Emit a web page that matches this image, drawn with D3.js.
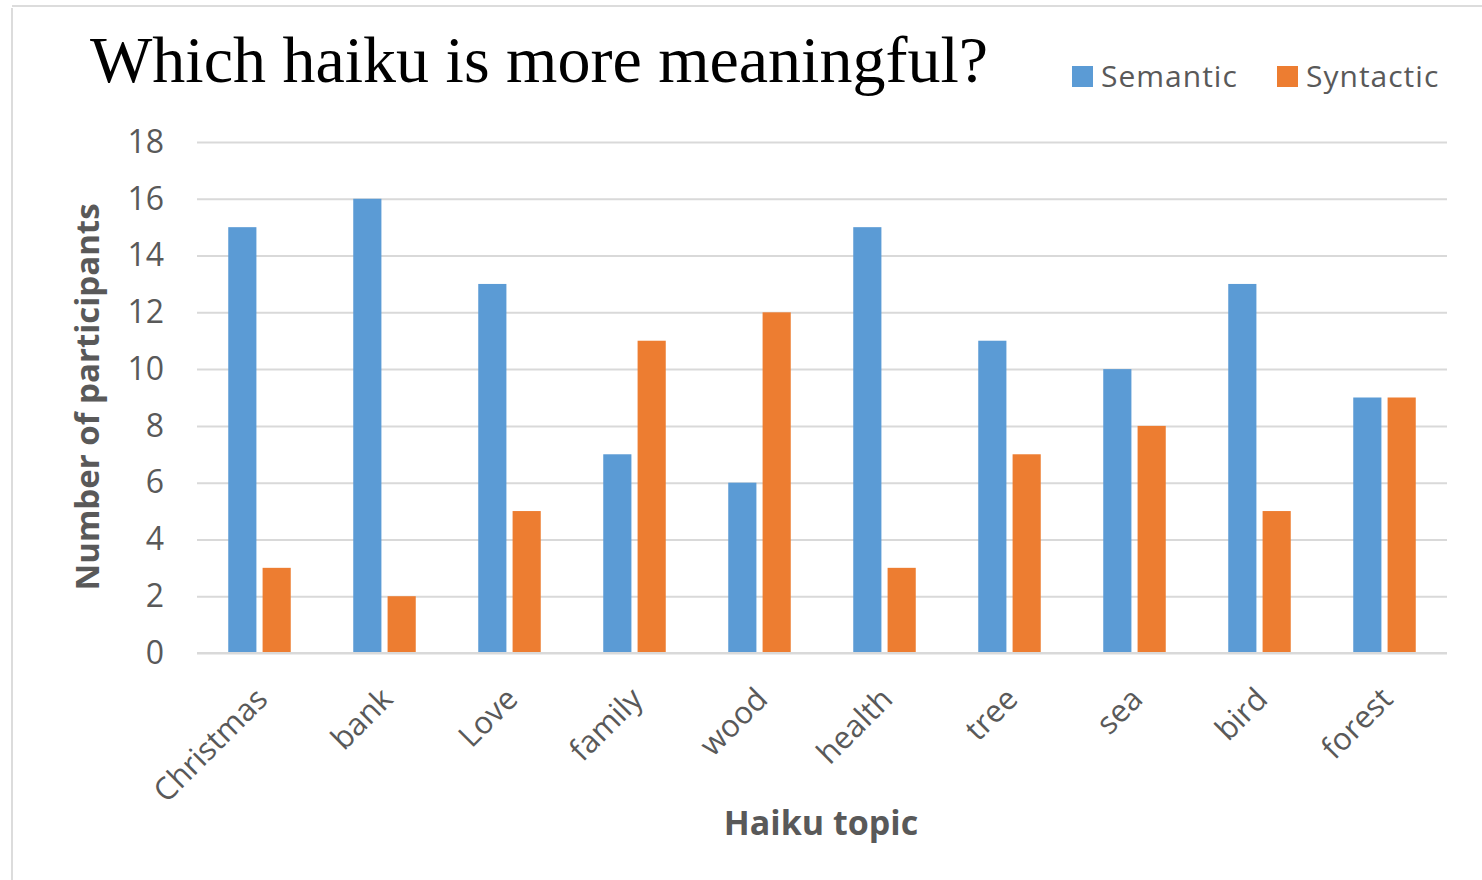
<!DOCTYPE html>
<html>
<head>
<meta charset="utf-8">
<script src="https://cdn.jsdelivr.net/npm/d3@7"></script>
<style>
  body { margin: 0; background: #fff; }
  text { font-family: "Open Sans", sans-serif; }
</style>
</head>
<body>
<svg width="1482" height="880"></svg>
<script>
var categories = ["Christmas", "bank", "Love", "family", "wood", "health", "tree", "sea", "bird", "forest"];
var seriesNames = ["Semantic", "Syntactic"];
var semantic = [15, 16, 13, 7, 6, 15, 11, 10, 13, 9];
var syntactic = [3, 2, 5, 11, 12, 3, 7, 8, 5, 9];
var yTicks = [0, 2, 4, 6, 8, 10, 12, 14, 16, 18];
var colors = ["#5b9bd5", "#ed7d31"];

var svg = d3.select("svg");
var width = +svg.attr("width"),
    height = +svg.attr("height");

var margin = {top: 142, right: 35, bottom: 227, left: 197};

// faint frame of the screenshot
svg.append("line").attr("x1", 12).attr("x2", 12).attr("y1", 8).attr("y2", height)
    .style("stroke", "#dcdcdc").style("stroke-width", 2);
svg.append("line").attr("x1", 12).attr("x2", width).attr("y1", 6).attr("y2", 6)
    .style("stroke", "#dcdcdc").style("stroke-width", 2);

var data = categories.map(function(c, i) {
    return {cat: c, values: [semantic[i], syntactic[i]]};
});

var x0 = d3.scaleBand()
    .domain(categories)
    .range([margin.left, width - margin.right])
    .paddingInner(0.5)
    .paddingOuter(0.25);

var x1 = d3.scaleBand()
    .domain(seriesNames)
    .range([0, x0.bandwidth()])
    .paddingInner(0.18);

var y = d3.scaleLinear()
    .domain([0, 18])
    .range([height - margin.bottom, margin.top]);

// gridlines + y labels
var yAxis = d3.axisLeft(y)
    .tickValues(yTicks)
    .tickSize(-(width - margin.left - margin.right))
    .tickPadding(33);

var gy = svg.append("g")
    .attr("transform", "translate(" + margin.left + ",0)")
    .call(yAxis);
gy.select(".domain").remove();
gy.selectAll(".tick line").style("stroke", "#d9d9d9").style("stroke-width", 2);
gy.selectAll(".tick text")
    .style("font-family", "'Open Sans', sans-serif")
    .style("font-size", "32px")
    .style("fill", "#595959");

// bars
var groups = svg.append("g")
    .selectAll("g")
    .data(data)
  .enter().append("g")
    .attr("transform", function(d) { return "translate(" + x0(d.cat) + ",0)"; });

groups.selectAll("rect")
    .data(function(d) { return d.values.map(function(v, i) { return {key: seriesNames[i], value: v, i: i}; }); })
  .enter().append("rect")
    .attr("x", function(d) { return x1(d.key); })
    .attr("width", x1.bandwidth())
    .attr("y", function(d) { return y(d.value); })
    .attr("height", function(d) { return y(0) - y(d.value); })
    .style("fill", function(d) { return colors[d.i]; });

// x axis
var xAxis = d3.axisBottom(x0).tickSize(0).tickPadding(0);
var gx = svg.append("g")
    .attr("transform", "translate(0," + y(0) + ")")
    .call(xAxis);
gx.select(".domain").remove();
gx.selectAll(".tick text")
    .style("font-family", "'Open Sans', sans-serif")
    .style("font-size", "31px")
    .style("fill", "#595959")
    .attr("text-anchor", "end")
    .attr("dy", null)
    .attr("transform", "translate(10,48) rotate(-45)");

// zero baseline
svg.append("line")
    .attr("x1", margin.left).attr("x2", width - margin.right)
    .attr("y1", y(0)).attr("y2", y(0))
    .style("stroke", "#d9d9d9").style("stroke-width", 2);

// axis titles
svg.append("text")
    .attr("transform", "translate(99,397) rotate(-90)")
    .attr("text-anchor", "middle")
    .style("font-size", "33px")
    .style("font-weight", "bold")
    .style("fill", "#595959")
    .text("Number of participants");

svg.append("text")
    .attr("x", 821).attr("y", 835)
    .attr("text-anchor", "middle")
    .style("font-size", "34px")
    .style("font-weight", "bold")
    .style("fill", "#595959")
    .text("Haiku topic");

// title
svg.append("text")
    .attr("x", 90).attr("y", 82)
    .style("font-family", "'Liberation Serif', 'Times New Roman', serif")
    .style("font-size", "66px")
    .style("fill", "#000")
    .text("Which haiku is more meaningful?");

// legend
var legend = svg.append("g").selectAll("g")
    .data(seriesNames)
  .enter().append("g")
    .attr("transform", function(d, i) { return "translate(" + [1072, 1277][i] + ",66)"; });
legend.append("rect")
    .attr("width", 21).attr("height", 21)
    .style("fill", function(d, i) { return colors[i]; });
legend.append("text")
    .attr("x", 29).attr("y", 21)
    .style("font-size", "30px")
    .style("letter-spacing", "1px")
    .style("fill", "#595959")
    .text(function(d) { return d; });
</script>
</body>
</html>
